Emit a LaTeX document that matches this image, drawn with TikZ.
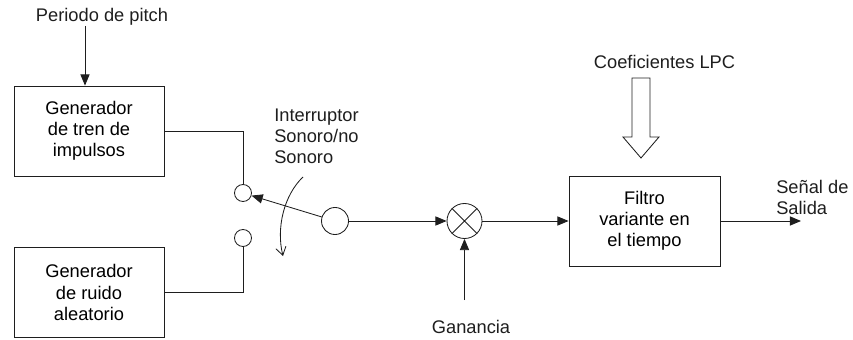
\documentclass[tikz,border=0pt]{standalone}
\usepackage{fontspec}
\setmainfont{Liberation Sans}
\usetikzlibrary{arrows.meta,positioning,calc}
\definecolor{inkgray}{RGB}{30,30,30}

\begin{document}
\begin{tikzpicture}[x=0.025cm,y=-0.025cm,font=\fontsize{13}{15}\selectfont,
 box/.style={draw=inkgray,line width=0.6pt,align=center,minimum width=3.75cm,minimum height=2.25cm},
 port/.style={draw=inkgray,line width=0.6pt,circle,inner sep=0pt,minimum size=0.425cm},
 lbl/.style={text=inkgray,inner sep=0pt},
 arr/.style={-{Triangle[length=2.8mm,width=2.3mm]},line width=0.6pt,draw=inkgray},
 wire/.style={line width=0.6pt,draw=inkgray}]
\useasboundingbox (0,0) rectangle (853,340);
\node[lbl] (pitch) at (102,17) {Periodo de pitch};
\node[box] (tren) at (89,131) {Generador\\de tren de\\impulsos};
\node[box] (ruido) at (89,292.5) {Generador\\de ruido\\aleatorio};
\node[port] (son) at (243,193) {};
\node[port] (noson) at (243,238) {};
\node[port,minimum size=0.675cm] (sw) at (335,221) {};
\node[lbl,align=left,anchor=west] (inter) at (274,136.5) {Interruptor\\Sonoro/no\\Sonoro};
\node[port,minimum size=0.875cm] (mul) at (464.5,221) {};
\node[lbl] (gan) at (471,327) {Ganancia};
\node[lbl] (coef) at (664.5,62) {Coeficientes LPC};
\node[box,minimum width=3.775cm] (filt) at (644.5,221) {Filtro\\variante en\\el tiempo};
\node[lbl,align=left,anchor=west] (senal) at (776,197.5) {Señal de\\Salida};
\coordinate (ganpt) at (464.5,300);
\coordinate (fin) at (801,221);
\coordinate (giro0) at (303,177);
\coordinate (giro1) at (283,256);
\draw[arr] ([xshift=-0.1cm]pitch.south -| tren.north) -- ([xshift=-0.1cm]tren.north);
\draw[wire] (tren.east) -| (son.north);
\draw[wire] (ruido.east) -| (noson.south);
\draw[arr] (sw) -- (son);
\draw[wire,-{Straight Barb[length=2mm,width=2.6mm]}] (giro0) .. controls (284,195) and (276,228) .. (giro1);
\draw[arr] (sw) -- (mul);
\draw[wire] (mul.north west) -- (mul.south east) (mul.north east) -- (mul.south west);
\draw[arr] (ganpt) -- (mul);
\draw[arr] (mul) -- (filt);
\draw[arr] (filt) -- (fin);
\draw[wire] (632,78) -- (650,78) -- (650,137) -- (659,137) -- (641,158) -- (623,137) -- (632,137) -- cycle;
\end{tikzpicture}
\end{document}
